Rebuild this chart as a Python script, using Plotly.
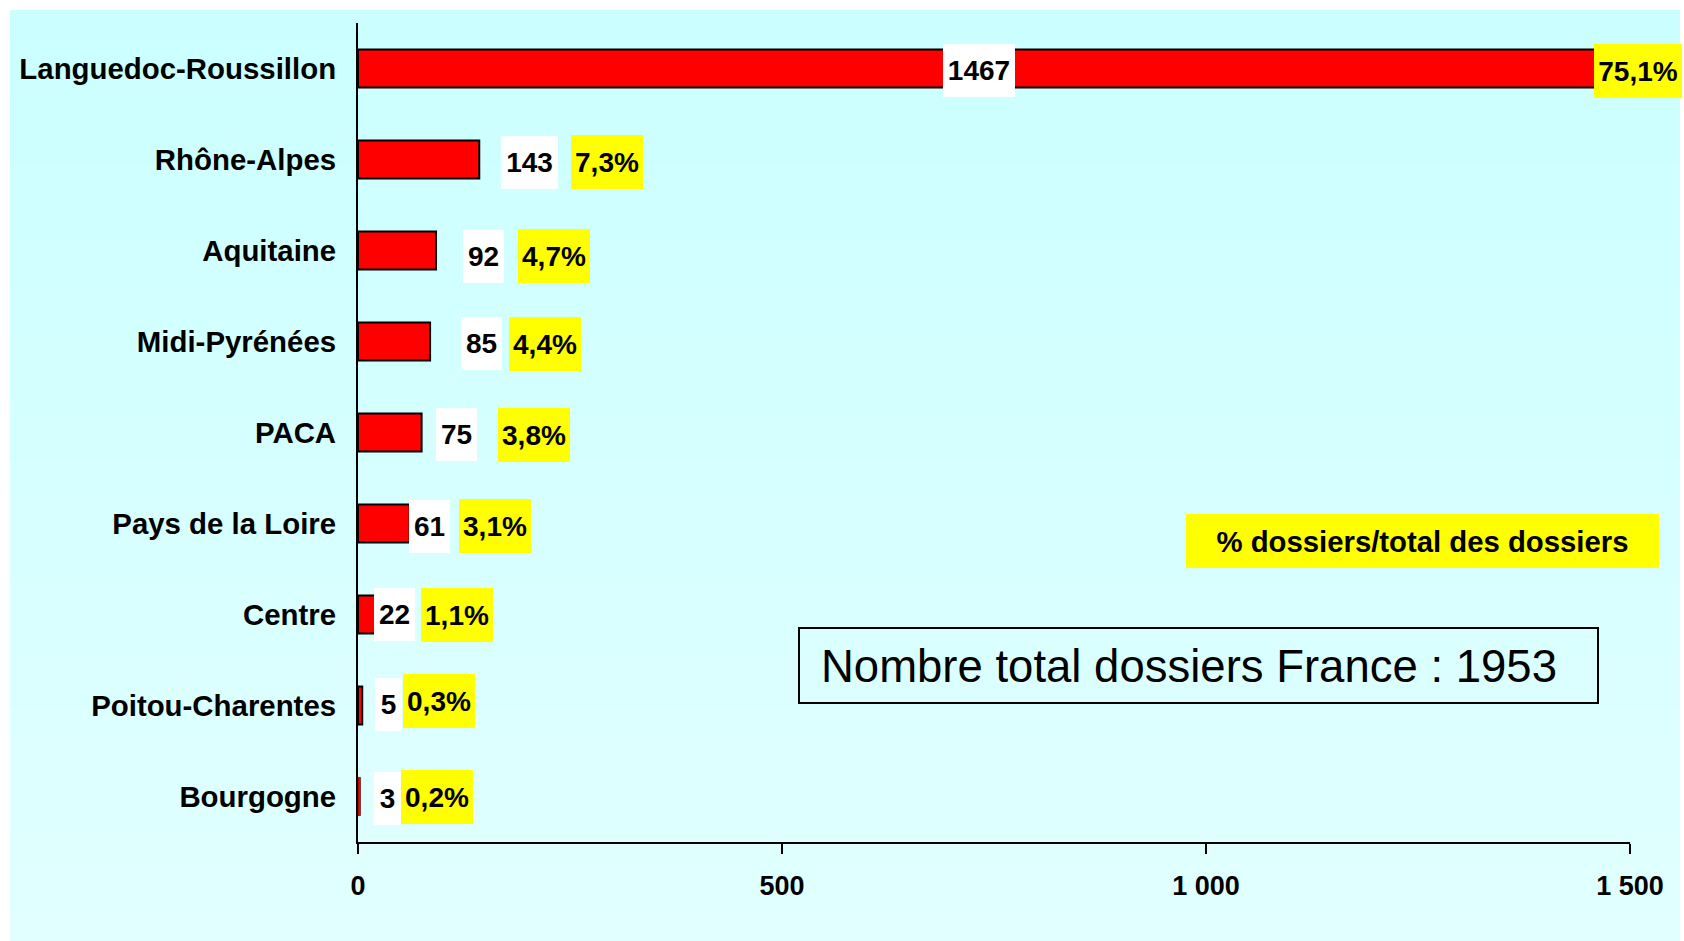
import plotly.graph_objects as go

# ---------------- data ----------------
categories = ["Languedoc-Roussillon", "Rhône-Alpes", "Aquitaine", "Midi-Pyrénées", "PACA",
              "Pays de la Loire", "Centre", "Poitou-Charentes", "Bourgogne"]
dossiers = [1467, 143, 92, 85, 75, 61, 22, 5, 3]
pct_labels = ["75,1%", "7,3%", "4,7%", "4,4%", "3,8%", "3,1%", "1,1%", "0,3%", "0,2%"]
total_dossiers = 1953
x_tick_vals = [0, 500, 1000, 1500]
x_tick_text = ["0", "500", "1 000", "1 500"]
legend_text = "% dossiers/total des dossiers"
total_text = "Nombre total dossiers France : " + str(total_dossiers)

# ---------------- layout helpers (pixels) ----------------
W, H = 1684, 941
L, R, T, B = 358, 54, 23, 99
PW, PH = W - L - R, H - T - B

# label placement relative to bar end (pixels)
value_dx = [-623, 50, 47.5, 51.5, 35, 20, 18, 26.5, 26.5]
value_dy = [2, 3, 6, 2, 2, 2.5, 0, -1.5, 2]
pct_dx = [36, 128, 117.5, 114.5, 112, 85, 80, 77, 76.5]
pct_dy = [2, 2, 5.5, 2, 2, 2.5, 0, -5, 0]
value_box_w = {1: 27, 2: 41, 3: 57, 4: 72}
pct_box_w = {4: 72, 5: 88}
bar_line_w = [2, 2, 2, 2, 2, 2, 2, 2, 0.5]

FONT = "Liberation Sans, Arial, sans-serif"


def pxx(px):
    return (px - L) / PW


def pxy(py):
    return (H - B - py) / PH


fig = go.Figure()
fig.add_trace(go.Bar(
    x=dossiers, y=categories, orientation="h",
    marker=dict(color="#FF0000", line=dict(color="black", width=bar_line_w)),
    width=0.42, hoverinfo="x+y",
))

annotations = []
for cat, v, p, vdx, vdy, pdx, pdy in zip(categories, dossiers, pct_labels,
                                          value_dx, value_dy, pct_dx, pct_dy):
    annotations.append(dict(
        x=v, y=cat, xref="x", yref="y", text=str(v), showarrow=False,
        xshift=vdx, yshift=-vdy, xanchor="center", yanchor="middle",
        bgcolor="white", width=value_box_w[len(str(v))], height=53,
        borderpad=0, borderwidth=0,
        font=dict(family=FONT, size=28, color="black", weight="bold"),
    ))
    annotations.append(dict(
        x=v, y=cat, xref="x", yref="y", text=p, showarrow=False,
        xshift=pdx, yshift=-pdy, xanchor="center", yanchor="middle",
        bgcolor="#FFFF00", width=pct_box_w[len(p)], height=54,
        borderpad=0, borderwidth=0,
        font=dict(family=FONT, size=28, color="black", weight="bold"),
    ))

# legend-like yellow box
annotations.append(dict(
    x=pxx((1186 + 1659) / 2), y=pxy(541), xref="paper", yref="paper",
    text=legend_text, showarrow=False, xanchor="center", yanchor="middle",
    bgcolor="#FFFF00", width=473, height=54, borderpad=0, borderwidth=0,
    font=dict(family=FONT, size=29.3, color="black", weight="bold"),
))
# total text
annotations.append(dict(
    x=pxx(819), y=pxy(666), xref="paper", yref="paper",
    text=total_text, showarrow=False, xanchor="left", yanchor="middle",
    font=dict(family=FONT, size=45.5, color="black"),
))

shapes = []
# background gradient
n = 60
top_c, bot_c = (203, 255, 255), (225, 255, 255)
y0p, y1p = 10, 941
for i in range(n):
    t = i / (n - 1)
    c = tuple(round(top_c[k] + (bot_c[k] - top_c[k]) * t) for k in range(3))
    ya = y0p + (y1p - y0p) * i / n
    yb = y0p + (y1p - y0p) * (i + 1) / n + 1
    shapes.append(dict(
        type="rect", xref="paper", yref="paper", layer="below",
        x0=pxx(10), x1=pxx(1680), y0=pxy(ya), y1=pxy(min(yb, 941)),
        fillcolor=f"rgb{c}", line=dict(width=0),
    ))
# total box outline
shapes.append(dict(
    type="rect", xref="paper", yref="paper", layer="above",
    x0=pxx(799), x1=pxx(1598), y0=pxy(628), y1=pxy(703),
    line=dict(color="black", width=2), fillcolor="rgba(0,0,0,0)",
))

fig.update_layout(
    width=W, height=H, autosize=False,
    margin=dict(l=L, r=R, t=T, b=B, pad=0),
    paper_bgcolor="white", plot_bgcolor="rgba(0,0,0,0)",
    showlegend=False, bargap=0.58,
    annotations=annotations, shapes=shapes,
    font=dict(family=FONT, color="black"),
    xaxis=dict(
        range=[0, 1500], tickvals=x_tick_vals, ticktext=x_tick_text,
        showline=True, linecolor="black", linewidth=2,
        ticks="outside", ticklen=10, tickwidth=2, tickcolor="black",
        showgrid=False, zeroline=False,
        tickfont=dict(family=FONT, size=27, color="black", weight="bold"),
        ticklabelstandoff=9,
    ),
    yaxis=dict(
        autorange="reversed", showline=True, linecolor="black", linewidth=2,
        ticks="", showgrid=False, zeroline=False,
        tickfont=dict(family=FONT, size=29.4, color="black", weight="bold"),
        ticklabelstandoff=14,
    ),
)

fig.write_html(
    "out.html",
    config={"displayModeBar": False},
    post_script="document.body.style.margin='0px';document.body.style.overflow='hidden';",
)
